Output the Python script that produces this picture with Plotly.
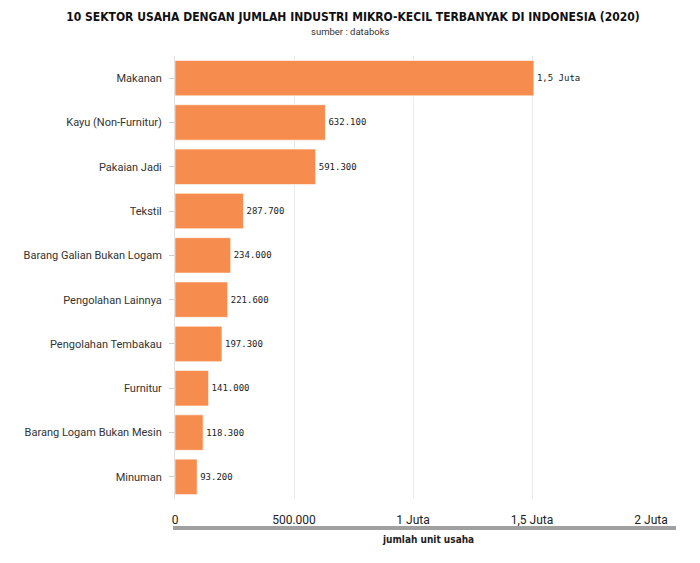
import plotly.graph_objects as go

categories = ["Makanan", "Kayu (Non-Furnitur)", "Pakaian Jadi", "Tekstil",
              "Barang Galian Bukan Logam", "Pengolahan Lainnya", "Pengolahan Tembakau",
              "Furnitur", "Barang Logam Bukan Mesin", "Minuman"]
values = [1508000, 632100, 591300, 287700, 234000, 221600, 197300, 141000, 118300, 93200]
value_labels = ["1,5 Juta", "632.100", "591.300", "287.700", "234.000", "221.600",
                "197.300", "141.000", "118.300", "93.200"]
tick_vals = [0, 500000, 1000000, 1500000, 2000000]
tick_text = ["0", "500.000", "1 Juta", "1,5 Juta", "2 Juta"]

H = 563 - 56 - 64  # plot height in px

def py(pix):
    return (563 - 64 - pix) / H

def px(pix):
    return (pix - 175) / 476

fig = go.Figure(go.Bar(
    x=values, y=categories, orientation="h",
    marker=dict(color="#F68D4F", line=dict(color="rgba(255,255,255,0.6)", width=1)),
    width=0.8,
    text=value_labels, textposition="outside", cliponaxis=False,
    textfont=dict(family="DejaVu Sans Mono", size=9, color="#222"),
))

fig.update_layout(
    width=700, height=563,
    margin=dict(l=175, r=49, t=56, b=64),
    plot_bgcolor="white", paper_bgcolor="white",
    showlegend=False,
    bargap=0.2,
    title=dict(text="<b>10 SEKTOR USAHA DENGAN JUMLAH INDUSTRI MIKRO-KECIL TERBANYAK DI INDONESIA (2020)</b>",
               x=353 / 700, xanchor="center", y=1 - 17 / 563, yanchor="middle",
               font=dict(family="DejaVu Sans Condensed, sans-serif", size=12, color="#111")),
    xaxis=dict(range=[0, 2000000], tickvals=tick_vals, ticktext=tick_text,
               showgrid=True, gridcolor="#ebebeb", gridwidth=1, zeroline=False,
               showline=False, ticks="", ticklabelstandoff=12,
               tickfont=dict(family="Roboto, sans-serif", size=12, color="#222")),
    yaxis=dict(autorange="reversed", showgrid=False, showline=True, linecolor="#e0e0e0",
               linewidth=1, ticks="outside", ticklen=5, tickcolor="#cccccc",
               ticklabelstandoff=5,
               tickfont=dict(family="Roboto, sans-serif", size=11, color="#333")),
)

fig.add_annotation(text="sumber : databoks", xref="paper", yref="paper",
                   x=px(350), y=py(32), xanchor="center", yanchor="middle", showarrow=False,
                   font=dict(family="Roboto, sans-serif", size=9.5, color="#333"))
fig.add_annotation(text="<b>jumlah unit usaha</b>", xref="paper", yref="paper",
                   x=px(428), y=py(539), xanchor="center", yanchor="middle", showarrow=False,
                   font=dict(family="DejaVu Sans Condensed, sans-serif", size=10, color="#222"))
fig.add_shape(type="line", xref="paper", yref="paper",
              x0=px(173), x1=px(676), y0=py(528), y1=py(528),
              line=dict(color="#a0a0a0", width=4))

fig.write_html("out.html")
